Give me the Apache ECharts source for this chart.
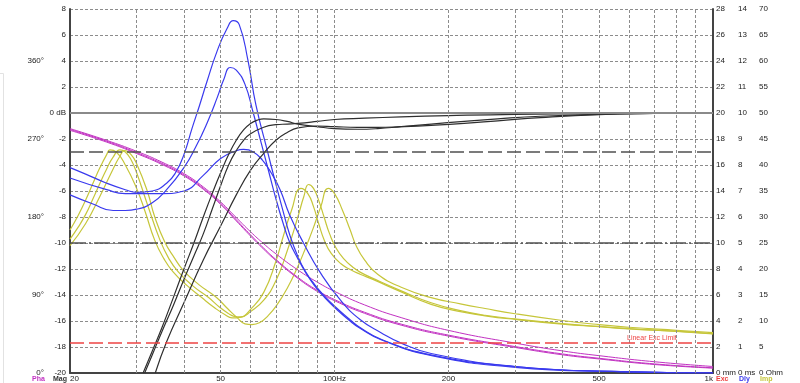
<!DOCTYPE html>
<html><head><meta charset="utf-8">
<script src="https://cdn.jsdelivr.net/npm/echarts@6/dist/echarts.min.js"></script>
<style>html,body{margin:0;padding:0;background:#fff}#c{width:800px;height:383px}</style>
</head><body><div id="c"></div><script>
// ---------- data ----------
const gridFreqs = [30,40,50,60,70,80,90,100,200,300,400,500,600,700,800,900];
const tickFreqs = [20,50,100,200,500,1000];
const tickTexts = ['20','50','100Hz','200','500','1k'];
const refLevels = [0,-3,-10];           // dB reference lines
const excLimit = 2.3;                   // mm, linear excursion limit

// magnitude (dB)
const magFreqA = [31.2,33,35,37.5,40,42.5,45,47.5,50,52.5,55,57.5,60,62.5,65,70,75,80,90,100,115,130,150,180,220,270,350,500,700,1000];
const magA = [-20,-18.3,-16.5,-14.2,-12.0,-10.0,-8.0,-6.2,-4.6,-3.2,-2.1,-1.3,-0.8,-0.55,-0.45,-0.5,-0.65,-0.85,-1.05,-1.2,-1.25,-1.2,-1.05,-0.85,-0.65,-0.45,-0.25,-0.1,-0.03,0];
const magFreqB = [31.5,33,35,37.5,40,42.5,45,47.5,50,52.5,55,57.5,60,65,70,75,80,90,100,120,150,200,300,500,1000];
const magB = [-20,-18.6,-16.8,-14.8,-12.8,-11.0,-9.3,-7.4,-5.6,-4.0,-2.9,-2.1,-1.6,-1.1,-0.9,-0.85,-0.8,-0.65,-0.5,-0.4,-0.3,-0.2,-0.1,-0.05,0];
const magFreqC = [33.6,36,40,45,50,55,60,65,70,75,80,90,100,115,130,150,180,220,270,350,500,700,1000];
const magC = [-20,-17.6,-14.6,-11.3,-8.7,-6.3,-4.4,-3.1,-2.1,-1.5,-1.15,-1.0,-1.05,-1.1,-1.1,-1.05,-0.95,-0.8,-0.6,-0.35,-0.12,-0.04,0];

// phase (deg)
const phaFreq = [20,25,30,35,40,45,50,55,60,65,70,80,90,100,120,150,200,300,400,500,700,1000];
const pha1 = [282,268.4,255.8,243.3,230.1,214.7,197.4,179.3,162.9,149.1,137.5,118.9,104.9,94.2,78.6,63.9,49.2,34.5,25.5,20,13,7.5];
const pha2 = [281,267.4,254.3,241.8,228.6,213.2,195.9,176.8,159.4,144.1,131,110.4,95.4,84.7,70.1,56.4,43.7,30.5,22,17,10.5,6];
const pha3 = [280,266.4,253.2,240.6,227.4,212,194.6,175.5,158,142.8,129.8,109.2,94.2,83.4,68.9,55.2,42.6,29.5,21,16.2,9.8,5.6];

// group delay (ms)
const dlyFreqP = [20,22,25,28,30,33,36,38,40,42,44,46,49,52,54,56,59,62,66.3,69.6,73.2,76.2,79.9,83.8,88.6,94.2,100.4,109.9,116.8,132.7,179.5,300,570,1000];
const dlyP = [7.9,7.65,7.3,7.05,6.95,7.0,7.3,7.7,8.4,9.4,10.3,11.2,12.4,13.25,13.55,13.4,12.05,10.3,8.6,7.4,6.2,5.3,4.5,3.9,3.4,2.95,2.55,2.05,1.75,1.3,0.7,0.25,0.05,0];
const dlyFreqR = [20,23,26,28,30,33,36,40,43,46,49,51,53,55,58,61,64,67,70,73,76,80,84,88.6,94.2,100.4,109.9,116.8,132.7,179.5,300,570,1000];
const dlyR = [6.85,6.5,6.25,6.25,6.3,6.55,7.05,7.9,8.7,9.6,10.6,11.3,11.75,11.65,11.1,10.0,8.85,7.75,6.7,5.8,5.05,4.4,3.85,3.35,2.9,2.5,2.0,1.72,1.28,0.68,0.22,0.05,0];
const dlyFreqQ = [20,25,28,30,35,40,45,50,55,57.5,61,64.4,68,71.8,76,82.8,91.8,103.7,117,132.7,150,180,300,570,1000];
const dlyQ = [7.5,7.05,6.9,6.9,6.9,7.0,7.6,8.25,8.55,8.6,8.5,8.2,7.7,7.05,6.1,5.0,3.85,2.8,2.05,1.55,1.15,0.75,0.25,0.05,0];

// impedance (Ohm)
const impFreq1 = [20,21,22,23,24,25,25.5,26.5,28,30,31.6,33.5,35.4,37.4,40.8,44.4,48.3,51.4,53.6,56.3,60,65,70,73,77,81.5,85,88,91,94,98,104,110,116.8,126.3,150,180,215,250,300,400,500,600,800,1000];
const imp1 = [27.5,30.25,33.25,36.5,39.5,42,42.9,42.5,40,35.5,31,25.5,22,19.5,16.8,14.6,12.5,11.2,10.6,10.7,12.25,15.5,21.5,26.0,31.3,35.5,34.5,32.0,28.5,25.5,23.0,21.0,19.9,19.0,18.0,15.6,13.2,11.8,11.0,10.3,9.4,8.9,8.5,8.0,7.5];
const impFreq2 = [20,21,22,23,24,25,26,27.1,28,29,30,32,34.6,36.5,38.6,42.3,46.3,49.8,52.3,54.3,56.6,60,65,70,75,80,83,85.4,88,91,94,97,101,106,112,116.8,126.3,150,180,215,250,300,400,500,600,800,1000];
const imp2 = [25.75,28,30.5,33.5,36.5,39.25,41.5,42.9,42.5,41,38.5,32.5,25.5,22,19.5,16.7,14.6,12.6,11.5,10.9,10.8,11.8,14.0,17.75,23.5,30.0,34.0,36.25,35.5,33.0,29.8,26.8,24.0,21.9,20.3,19.4,18.2,15.8,13.5,12.0,11.1,10.4,9.5,8.95,8.55,8.05,7.55];
const impFreq3 = [20,22,24,26,27,27.9,29,30,32,33.5,35.6,37.7,39.8,43.8,48.6,52.3,55.2,58,60.5,63.5,66.7,70,75,80,84,88,92,96.2,100,105,110,114,120,130,150,180,215,250,300,400,500,600,800,1000];
const imp3 = [24.5,28.75,34,39.25,41.5,42.75,42,40.25,35,30,25.2,22.2,19.8,17.0,14.6,12.3,10.7,9.45,9.3,9.7,11.0,12.8,16.3,20.5,24.2,28.0,32.0,35.5,34.5,31.25,27.5,24.5,21.75,19,16.5,14.5,13.3,12.4,11.4,10.1,9.3,8.8,8.2,7.75];

// ---------- chart ----------
const FONT = '"Liberation Sans", Arial, sans-serif';
const zip = (f, v) => f.map((x, i) => [x, v[i]]);
const COL = {mag:'#2e2e2e', pha:'#c232c2', dly:'#3a3aee', imp:'#c6c63a', exc:'#ee4444', grid:'#8c8c8c', axis:'#444'};
const lbl = {fontSize:8, color:'#222', fontFamily:FONT};
const hidden = {axisTick:{show:false}, splitLine:{show:false}, axisLine:{show:false}};

function curve(name, f, v, yIdx, color, w) {
  return {type:'line', name, data:zip(f, v), xAxisIndex:0, yAxisIndex:yIdx, smooth:0.5,
    showSymbol:false, symbol:'none', silent:true, z:3,
    lineStyle:{color, width:w || 1.2}, itemStyle:{color}};
}

const chart = echarts.init(document.getElementById('c'), null, {renderer:'canvas'});
const last = tickFreqs.length - 1;

const option = {
  animation:false,
  backgroundColor:'#fff',
  grid:{left:70, right:87, top:9, bottom:10, containLabel:false},
  xAxis:{type:'log', logBase:10, min:20, max:1000,
    axisLine:{show:true, onZero:false, lineStyle:{color:COL.axis, width:2}},
    axisTick:{show:false}, axisLabel:{show:false}, splitLine:{show:false}, minorSplitLine:{show:false}},
  yAxis:[
    {type:'value', min:-20, max:8, interval:2, position:'left',
      axisLine:{show:true, onZero:false, lineStyle:{color:COL.axis, width:2}}, axisTick:{show:false},
      splitLine:{show:true, lineStyle:{color:COL.grid, type:[3,2], width:1}},
      axisLabel:{...lbl, margin:4, formatter:v => v === 0 ? '0 dB' : String(v)}},
    {type:'value', min:0, max:420, interval:90, position:'left', offset:22, ...hidden,
      axisLabel:{...lbl, margin:4, formatter:v => (v <= 360 && v % 90 === 0) ? v + '°' : ''}},
    {type:'value', min:0, max:28, interval:2, position:'right',
      axisLine:{show:true, onZero:false, lineStyle:{color:COL.axis, width:2}}, axisTick:{show:false}, splitLine:{show:false},
      axisLabel:{...lbl, margin:3, align:'left', formatter:v => v === 0 ? '0 mm' : String(v)}},
    {type:'value', min:0, max:14, interval:1, position:'right', offset:22, ...hidden,
      axisLabel:{...lbl, margin:3, align:'left', formatter:v => v === 0 ? '0 ms' : String(v)}},
    {type:'value', min:0, max:70, interval:5, position:'right', offset:43, ...hidden,
      axisLabel:{...lbl, margin:3, align:'left', formatter:v => v === 0 ? '0 Ohm' : String(v)}}
  ],
  series:[
    {type:'line', name:'grid', data:[[20,-20]], yAxisIndex:0, symbol:'none', silent:true, z:1,
      lineStyle:{width:0},
      markLine:{silent:true, symbol:['none','none'], animation:false, label:{show:false},
        data:[
          ...gridFreqs.map(f => ({xAxis:f, lineStyle:{color:COL.grid, type:[3,2], width:1}})),
          {yAxis:refLevels[0], lineStyle:{color:'#8a8a8a', type:'solid', width:2}},
          {yAxis:refLevels[1], lineStyle:{color:'#505050', type:[14,5], width:1.5}},
          {yAxis:refLevels[2], lineStyle:{color:'#505050', type:[16,3,2,3], width:1.5}},
          ...tickFreqs.map((f, i) => ({xAxis:f, lineStyle:{color:'rgba(0,0,0,0)', width:0},
            label:{show:true, position:'start', distance:2, formatter:tickTexts[i], ...lbl,
              align: i === 0 ? 'left' : (i === last ? 'right' : 'center')}}))
        ]}},
    {type:'line', name:'exc', data:[[20,0]], yAxisIndex:2, symbol:'none', silent:true, z:2,
      lineStyle:{width:0},
      markLine:{silent:true, symbol:['none','none'], animation:false, label:{show:false},
        data:[{yAxis:excLimit, lineStyle:{color:COL.exc, type:[14,5], width:1.5}}]}},
    curve('imp1', impFreq1, imp1, 4, COL.imp),
    curve('imp2', impFreq2, imp2, 4, COL.imp),
    curve('imp3', impFreq3, imp3, 4, COL.imp),
    curve('pha1', phaFreq, pha1, 1, COL.pha, 1),
    curve('pha2', phaFreq, pha2, 1, COL.pha, 1),
    curve('pha3', phaFreq, pha3, 1, COL.pha, 1),
    curve('dlyP', dlyFreqP, dlyP, 3, COL.dly),
    curve('dlyR', dlyFreqR, dlyR, 3, COL.dly),
    curve('dlyQ', dlyFreqQ, dlyQ, 3, COL.dly),
    curve('magA', magFreqA, magA, 0, COL.mag),
    curve('magB', magFreqB, magB, 0, COL.mag),
    curve('magC', magFreqC, magC, 0, COL.mag)
  ],
  graphic:[
    {type:'text', left:627, top:335, silent:true, style:{text:'Linear Exc Limit', fill:COL.exc, font:'7px ' + FONT}},
    {type:'text', left:32, top:376, silent:true, style:{text:'Pha', fill:COL.pha, font:'bold 7px ' + FONT}},
    {type:'text', left:53, top:376, silent:true, style:{text:'Mag', fill:'#333', font:'bold 7px ' + FONT}},
    {type:'text', left:716, top:376, silent:true, style:{text:'Exc', fill:COL.exc, font:'bold 7px ' + FONT}},
    {type:'text', left:739, top:376, silent:true, style:{text:'Dly', fill:COL.dly, font:'bold 7px ' + FONT}},
    {type:'text', left:760, top:376, silent:true, style:{text:'Imp', fill:COL.imp, font:'bold 7px ' + FONT}},
    {type:'polyline', silent:true, shape:{points:[[0,73.5],[3.5,73.5],[3.5,383]]}, style:{stroke:'#e2e2e2', fill:null, lineWidth:1}}
  ]
};
chart.setOption(option);
</script></body></html>
